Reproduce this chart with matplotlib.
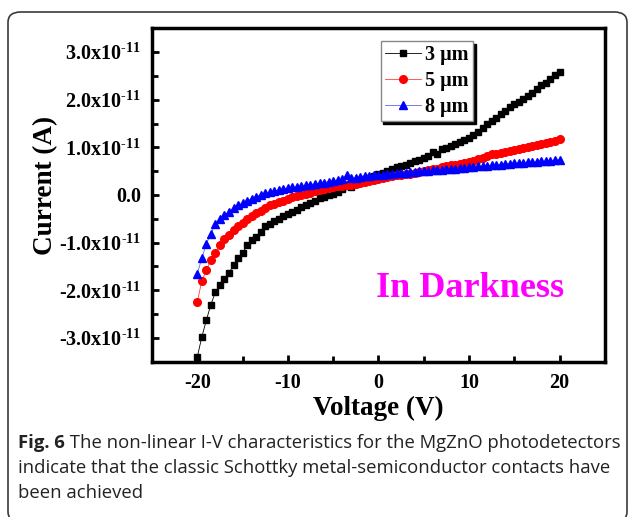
import numpy as np
import matplotlib
matplotlib.use('Agg')
from matplotlib import pyplot as plt
from matplotlib.patches import FancyBboxPatch
from matplotlib.ticker import MultipleLocator, FixedLocator, FuncFormatter

plt.rcParams['font.family'] = 'serif'
plt.rcParams['font.serif'] = ['Liberation Serif']
plt.rcParams['mathtext.fontset'] = 'custom'
plt.rcParams['mathtext.rm'] = 'Liberation Serif'
plt.rcParams['mathtext.bf'] = 'Liberation Serif:bold'
plt.rcParams['axes.unicode_minus'] = False

# voltage sweep (V), 0.5 V step
voltage = np.arange(-20, 20.5, 0.5)

# current in units of 1e-11 A
i_3um = [-3.40, -2.98, -2.63, -2.30, -2.04, -1.90, -1.76, -1.63, -1.48, -1.32,
         -1.22, -1.05, -0.95, -0.88, -0.78, -0.66, -0.60, -0.55, -0.50, -0.44,
         -0.40, -0.35, -0.31, -0.25, -0.21, -0.16, -0.12, -0.07, -0.04, 0.00,
         0.03, 0.06, 0.12, 0.18, 0.17, 0.24, 0.28, 0.33, 0.36, 0.40,
         0.44, 0.47, 0.50, 0.54, 0.58, 0.60, 0.64, 0.67, 0.72, 0.74,
         0.78, 0.82, 0.90, 0.86, 0.96, 0.98, 1.02, 1.07, 1.11, 1.16,
         1.20, 1.25, 1.32, 1.40, 1.48, 1.55, 1.62, 1.70, 1.76, 1.84,
         1.90, 1.96, 2.02, 2.07, 2.14, 2.22, 2.30, 2.36, 2.44, 2.52, 2.59]
i_5um = [-2.25, -1.80, -1.58, -1.36, -1.22, -1.05, -0.93, -0.84, -0.74, -0.66,
         -0.58, -0.50, -0.44, -0.38, -0.33, -0.28, -0.22, -0.18, -0.14, -0.12,
         -0.08, -0.05, -0.02, 0.00, 0.03, 0.05, 0.08, 0.10, 0.12, 0.14,
         0.16, 0.18, 0.19, 0.20, 0.22, 0.24, 0.26, 0.28, 0.30, 0.32,
         0.34, 0.36, 0.37, 0.39, 0.41, 0.42, 0.44, 0.45, 0.47, 0.48,
         0.50, 0.52, 0.54, 0.55, 0.58, 0.60, 0.62, 0.63, 0.66, 0.68,
         0.70, 0.72, 0.76, 0.78, 0.82, 0.86, 0.87, 0.88, 0.90, 0.92,
         0.94, 0.96, 0.98, 1.00, 1.03, 1.05, 1.07, 1.09, 1.11, 1.14, 1.17]
i_8um = [-1.65, -1.33, -1.02, -0.82, -0.60, -0.50, -0.42, -0.35, -0.28, -0.22,
         -0.17, -0.12, -0.08, -0.04, 0.01, 0.05, 0.06, 0.08, 0.10, 0.12,
         0.14, 0.16, 0.17, 0.18, 0.20, 0.22, 0.23, 0.25, 0.26, 0.28,
         0.30, 0.31, 0.33, 0.42, 0.35, 0.36, 0.38, 0.39, 0.40, 0.41,
         0.42, 0.43, 0.44, 0.45, 0.46, 0.46, 0.47, 0.48, 0.49, 0.50,
         0.50, 0.51, 0.52, 0.52, 0.53, 0.54, 0.54, 0.55, 0.56, 0.57,
         0.58, 0.59, 0.60, 0.60, 0.61, 0.62, 0.63, 0.64, 0.65, 0.66,
         0.67, 0.67, 0.68, 0.69, 0.69, 0.70, 0.71, 0.71, 0.72, 0.73, 0.74]

labels = ['3 μm', '5 μm', '8 μm']
x_ticks = [-20, -10, 0, 10, 20]
y_ticks = [-3e-11, -2e-11, -1e-11, 0, 1e-11, 2e-11, 3e-11]
caption_bold = 'Fig. 6'
caption_lines = [' The non-linear I-V characteristics for the MgZnO photodetectors',
                 'indicate that the classic Schottky metal-semiconductor contacts have',
                 'been achieved']

fig = plt.figure(figsize=(6.3, 5.17), dpi=100)

# rounded frame round the figure + caption
frame = FancyBboxPatch((8/630, 1-522/517), 619/630, 510/517,
                       boxstyle='round,pad=0,rounding_size=0.02',
                       transform=fig.transFigure, facecolor='none',
                       edgecolor='#3a3a3a', linewidth=1.2, zorder=0)
fig.patches.append(frame)

ax = fig.add_axes([0.2413, 0.3004, 0.7187, 0.6449])
ax.plot(voltage, np.array(i_3um)*1e-11, '-', color='black', lw=0.6,
        marker='s', ms=5, mec='black', label=labels[0])
ax.plot(voltage, np.array(i_5um)*1e-11, '-', color='#ff4040', lw=0.6,
        marker='o', ms=5.5, mfc='red', mec='red', label=labels[1])
ax.plot(voltage, np.array(i_8um)*1e-11, '-', color='#6060ff', lw=0.6,
        marker='^', ms=6, mfc='blue', mec='blue', label=labels[2])

ax.set_xlim(-25, 25)
ax.set_ylim(-3.5e-11, 3.5e-11)
ax.xaxis.set_major_locator(FixedLocator(x_ticks))
ax.xaxis.set_minor_locator(MultipleLocator(5))
ax.yaxis.set_major_locator(FixedLocator(y_ticks))
ax.yaxis.set_minor_locator(MultipleLocator(0.5e-11))

HY = '\u2010'  # plain hyphen instead of math minus


def yfmt(v, pos):
    if abs(v) < 1e-15:
        return '0.0'
    s = ('%.1f' % (v/1e-11)).replace('-', HY)
    return r'$\mathbf{%sx10^{%s11}}$' % (s, HY)


ax.yaxis.set_major_formatter(FuncFormatter(yfmt))
ax.tick_params(which='both', direction='in', width=2, top=False, right=False)
ax.tick_params(which='major', length=5, pad=8)
ax.tick_params(which='minor', length=4)
for t in ax.get_xticklabels() + ax.get_yticklabels():
    t.set_fontsize(14.5)
    t.set_fontweight('bold')
for s in ax.spines.values():
    s.set_linewidth(2.5)

ax.set_xlabel('Voltage (V)', fontsize=19.5, fontweight='bold', labelpad=2)
ax.set_ylabel('Current (A)', fontsize=19.5, fontweight='bold')
ax.yaxis.set_label_coords(-0.207, 0.53)

leg = ax.legend(loc='upper left', bbox_to_anchor=(0.505, 0.962), borderaxespad=0,
                prop={'weight': 'bold', 'size': 14.5}, fancybox=False,
                edgecolor='#888888', handlelength=1.8, handletextpad=0.2,
                labelspacing=0.28, borderpad=0.22,
                shadow={'color': 'black', 'alpha': 1})
leg.get_frame().set_linewidth(1)

ax.text(0.91, 0.22, 'In Darkness', transform=ax.transAxes, color='#ff00ff',
        fontsize=26, fontweight='bold', ha='right', va='center')

# caption
cap_font = 'Open Sans'
cap_size = 13.3
x0 = 18/630
t0 = fig.text(x0, 1-443/517, caption_bold, fontsize=cap_size, fontweight='bold',
              family=cap_font, va='center', color='#222222')
fig.canvas.draw()
bb = t0.get_window_extent()
fig.text(bb.x1/630, 1-443/517, caption_lines[0], fontsize=cap_size, family=cap_font,
         va='center', color='#222222')
fig.text(x0, 1-468/517, caption_lines[1], fontsize=cap_size, family=cap_font,
         va='center', color='#222222')
fig.text(x0, 1-493/517, caption_lines[2], fontsize=cap_size, family=cap_font,
         va='center', color='#222222')

plt.savefig('out.png', dpi=100)
